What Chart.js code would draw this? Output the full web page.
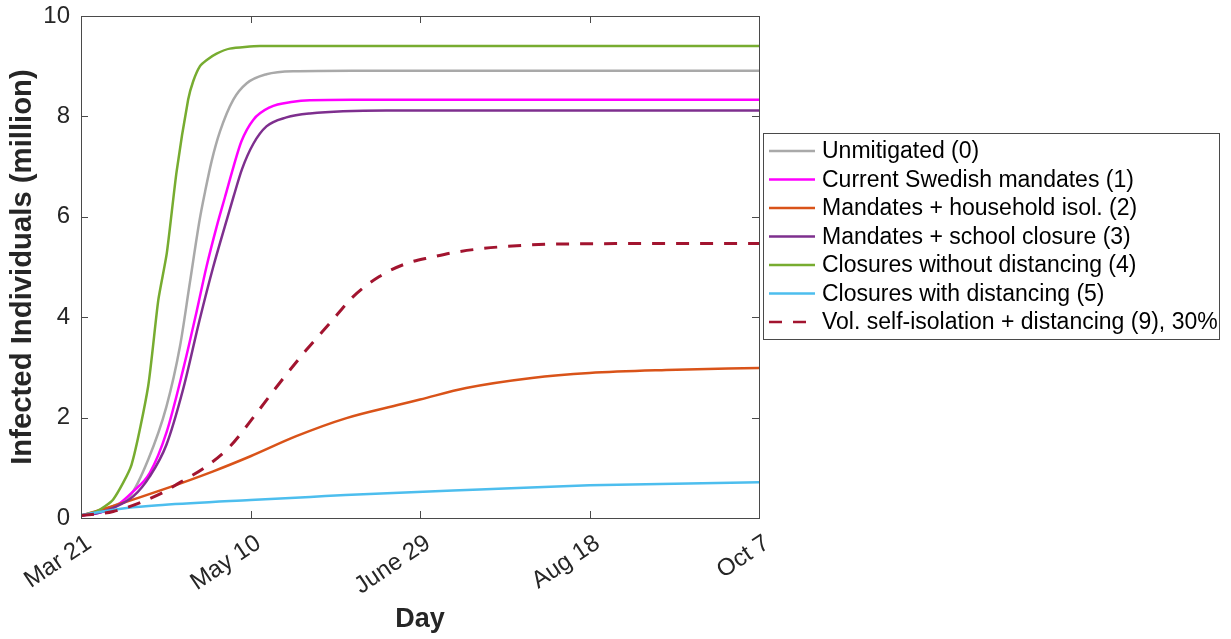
<!DOCTYPE html>
<html>
<head>
<meta charset="utf-8">
<script src="https://cdn.jsdelivr.net/npm/chart.js@4.4.0/dist/chart.umd.min.js"></script>
<style>
  html, body { margin: 0; padding: 0; background: #fff; }
  canvas { display: block; }
</style>
</head>
<body>
<canvas id="infectedChart" width="1231" height="639"></canvas>
<script>
// x ticks (days since Mar 21) and their date labels
const xTickLabels = ['Mar 21', 'May 10', 'June 29', 'Aug 18', 'Oct 7'];

// series: day -> infected (million)
const unmitDays = [0, 5, 10, 14.4, 19.8, 25.2, 29.2, 32.1, 35, 36.6, 38.5, 41, 44.9, 48.9, 54.7, 62.6, 80, 200];
const unmitVals = [0.05, 0.12, 0.25, 0.43, 1.16, 2.22, 3.42, 4.68, 5.94, 6.5, 7.1, 7.7, 8.33, 8.66, 8.84, 8.9, 8.91, 8.91];

const swedenDays = [0, 5, 9.5, 15.4, 20.3, 25.2, 30.1, 34, 37, 40, 42.5, 45, 47.3, 50.8, 55.7, 62.6, 67.5, 80, 200];
const swedenVals = [0.05, 0.1, 0.2, 0.53, 0.9, 1.7, 2.95, 4.08, 5.0, 5.8, 6.4, 7.0, 7.5, 7.93, 8.18, 8.29, 8.32, 8.33, 8.33];

const householdDays = [0, 9.5, 24.3, 39, 50, 63.5, 78.3, 94, 100, 113.6, 133, 150, 172.6, 200];
const householdVals = [0.05, 0.24, 0.57, 0.93, 1.23, 1.63, 1.99, 2.26, 2.36, 2.59, 2.79, 2.89, 2.95, 2.99];

const schoolDays = [0, 5, 9.5, 15.4, 20.3, 25.2, 30.1, 35, 39, 43, 45, 47.5, 50.8, 54.7, 60.6, 67.5, 90, 200];
const schoolVals = [0.05, 0.1, 0.2, 0.43, 0.83, 1.46, 2.56, 3.95, 5.0, 5.94, 6.4, 6.95, 7.45, 7.8, 7.98, 8.06, 8.12, 8.12];

const noDistDays = [0, 4.6, 9.5, 14.9, 19.8, 22.8, 25.3, 28.2, 31.6, 33.1, 35.1, 37, 40, 43.9, 52.8, 200];
const noDistVals = [0.05, 0.13, 0.37, 1.06, 2.62, 4.34, 5.27, 6.9, 8.33, 8.7, 9.0, 9.12, 9.25, 9.35, 9.4, 9.4];

const withDistDays = [0, 13.5, 24, 50, 67.6, 78, 117.6, 150, 200];
const withDistVals = [0.06, 0.2, 0.26, 0.36, 0.42, 0.46, 0.57, 0.65, 0.71];

const volIsoDays = [0, 9.5, 24, 29, 37, 44, 51.8, 58.6, 66.5, 73.4, 80.3, 88, 96, 103.8, 110, 123.5, 143, 200];
const volIsoVals = [0.05, 0.13, 0.5, 0.7, 1.03, 1.43, 2.09, 2.69, 3.35, 3.88, 4.41, 4.81, 5.07, 5.2, 5.29, 5.4, 5.46, 5.47];

const seriesNames = [
  'Unmitigated (0)',
  'Current Swedish mandates (1)',
  'Mandates + household isol. (2)',
  'Mandates + school closure (3)',
  'Closures without distancing (4)',
  'Closures with distancing (5)',
  'Vol. self-isolation + distancing (9), 30%'
];
const seriesColors = ['#A9A9A9', '#FF00FF', '#D95319', '#7E2F8E', '#77AC30', '#4DBEEE', '#A2142F'];

const FONT = '"Liberation Sans", Arial, Helvetica, sans-serif';
const AXIS_COLOR = '#262626';

function pts(days, vals) {
  return days.map((d, i) => ({ x: d, y: vals[i] }));
}

const allSeries = [
  pts(unmitDays, unmitVals),
  pts(swedenDays, swedenVals),
  pts(householdDays, householdVals),
  pts(schoolDays, schoolVals),
  pts(noDistDays, noDistVals),
  pts(withDistDays, withDistVals),
  pts(volIsoDays, volIsoVals)
];

const datasets = allSeries.map((d, i) => ({
  label: seriesNames[i],
  data: d,
  borderColor: seriesColors[i],
  backgroundColor: seriesColors[i],
  borderWidth: i === 6 ? 3 : 2.5,
  borderDash: i === 6 ? [13, 11] : [],
  pointRadius: 0,
  fill: false,
  cubicInterpolationMode: i === 4 ? 'default' : 'monotone',
  tension: i === 4 ? 0.2 : 0,
  order: 10 - i
}));

// axes box with inward ticks on all four sides
const boxFrame = {
  id: 'boxFrame',
  afterDatasetsDraw(chart) {
    const { ctx, chartArea: a } = chart;
    const xs = chart.scales.x, ys = chart.scales.y;
    const len = 7;
    ctx.save();
    ctx.strokeStyle = '#4a4a4a';
    ctx.lineWidth = 1;
    ctx.setLineDash([]);
    ctx.strokeRect(a.left + 0.5, a.top + 0.5, a.right - a.left, a.bottom - a.top);
    ctx.beginPath();
    xs.ticks.forEach(t => {
      const px = Math.round(xs.getPixelForValue(t.value)) + 0.5;
      ctx.moveTo(px, a.bottom); ctx.lineTo(px, a.bottom - len);
      ctx.moveTo(px, a.top); ctx.lineTo(px, a.top + len);
    });
    ys.ticks.forEach(t => {
      const py = Math.round(ys.getPixelForValue(t.value)) + 0.5;
      ctx.moveTo(a.left, py); ctx.lineTo(a.left + len, py);
      ctx.moveTo(a.right, py); ctx.lineTo(a.right - len, py);
    });
    ctx.stroke();
    ctx.restore();
  }
};

// boxed legend to the right of the axes
const boxLegend = {
  id: 'boxLegend',
  afterDraw(chart) {
    const ctx = chart.ctx;
    const bx = 763, by = 133, bw = 456, bh = 206;
    ctx.save();
    ctx.fillStyle = '#fff';
    ctx.fillRect(bx, by, bw, bh);
    ctx.strokeStyle = '#4a4a4a';
    ctx.lineWidth = 1;
    ctx.strokeRect(bx + 0.5, by + 0.5, bw, bh);
    ctx.font = '23px ' + FONT;
    ctx.textBaseline = 'middle';
    ctx.textAlign = 'left';
    chart.data.datasets.forEach((ds, i) => {
      const y = by + 18 + i * 28.5;
      ctx.strokeStyle = ds.borderColor;
      ctx.lineWidth = 2.5;
      ctx.setLineDash(ds.borderDash || []);
      ctx.beginPath();
      ctx.moveTo(769, y);
      ctx.lineTo(815, y);
      ctx.stroke();
      ctx.setLineDash([]);
      ctx.fillStyle = '#000';
      ctx.fillText(ds.label, 822, y + 1);
    });
    ctx.restore();
  }
};

new Chart(document.getElementById('infectedChart').getContext('2d'), {
  type: 'line',
  data: { datasets: datasets },
  options: {
    responsive: false,
    animation: false,
    devicePixelRatio: 1,
    layout: { padding: { top: 16, right: 472, left: 0, bottom: 0 } },
    plugins: {
      legend: { display: false },
      tooltip: { enabled: false }
    },
    scales: {
      x: {
        type: 'linear',
        min: 0,
        max: 200,
        afterFit: s => { s.height = 121; s.paddingLeft = 0; s.paddingRight = 0; },
        grid: { display: false, drawTicks: false },
        border: { display: false },
        ticks: {
          stepSize: 50,
          minRotation: 34,
          maxRotation: 34,
          padding: 11,
          labelOffset: 8,
          color: AXIS_COLOR,
          font: { family: FONT, size: 24 },
          callback: v => xTickLabels[v / 50]
        },
        title: {
          display: true,
          text: 'Day',
          color: AXIS_COLOR,
          font: { family: FONT, size: 27, weight: 'bold' },
          padding: { top: 0, bottom: 3 }
        }
      },
      y: {
        min: 0,
        max: 10,
        afterFit: s => { s.width = 81; s.paddingTop = 0; s.paddingBottom = 0; },
        grid: { display: false, drawTicks: false },
        border: { display: false },
        ticks: {
          stepSize: 2,
          padding: 11,
          color: AXIS_COLOR,
          font: { family: FONT, size: 24 }
        },
        title: {
          display: true,
          text: 'Infected Individuals (million)',
          color: AXIS_COLOR,
          font: { family: FONT, size: 29.3, weight: 'bold' },
          padding: { top: 5, bottom: 0 }
        }
      }
    }
  },
  plugins: [boxFrame, boxLegend]
});
</script>
</body>
</html>
